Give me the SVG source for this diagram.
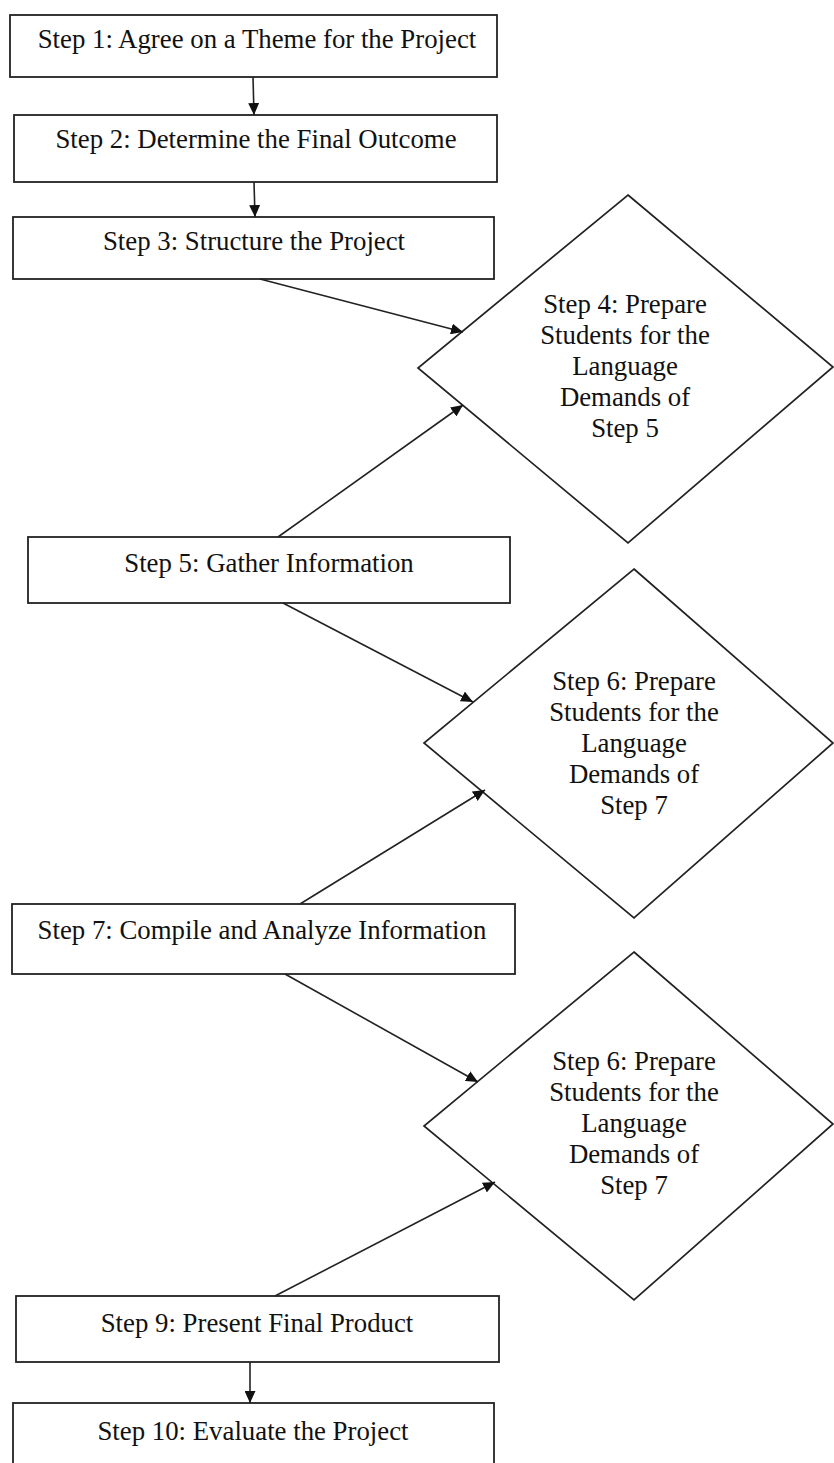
<svg xmlns="http://www.w3.org/2000/svg" width="834" height="1463" viewBox="0 0 834 1463">
<style>
.box{fill:#fff;stroke:#222;stroke-width:1.8}
.dia{fill:#fff;stroke:#222;stroke-width:1.7}
.lbl{font-family:"Liberation Serif","Times New Roman",serif;font-size:26.8px;fill:#111;text-anchor:middle}
.con{stroke:#222;stroke-width:1.6;fill:none;marker-end:url(#ah)}
</style>
<defs>
<marker id="ah" markerUnits="userSpaceOnUse" markerWidth="13" markerHeight="11" refX="12" refY="5.5" orient="auto">
<path d="M0,0 L12,5.5 L0,11 Z" fill="#111"/>
</marker>
</defs>
<rect width="834" height="1463" fill="#fff"/>
<g id="step1"><rect class="box" x="10" y="15" width="487" height="62"/><text class="lbl" x="257" y="48">Step 1: Agree on a Theme for the Project</text></g>
<g id="step2"><rect class="box" x="14" y="115" width="483" height="67"/><text class="lbl" x="256" y="148">Step 2: Determine the Final Outcome</text></g>
<g id="step3"><rect class="box" x="13" y="217" width="481" height="62"/><text class="lbl" x="254" y="250">Step 3: Structure the Project</text></g>
<g id="step4"><polygon class="dia" points="628,195 833,367 628,543 418,368"/>
<text class="lbl"><tspan x="625" y="313">Step 4: Prepare</tspan><tspan x="625" y="344">Students for the</tspan><tspan x="625" y="375">Language</tspan><tspan x="625" y="406">Demands of</tspan><tspan x="625" y="437">Step 5</tspan></text></g>
<g id="step5"><rect class="box" x="28" y="537" width="482" height="66"/><text class="lbl" x="269" y="572">Step 5: Gather Information</text></g>
<g id="step6a"><polygon class="dia" points="634,569 833,743 634,918 424,743"/>
<text class="lbl"><tspan x="634" y="690">Step 6: Prepare</tspan><tspan x="634" y="721">Students for the</tspan><tspan x="634" y="752">Language</tspan><tspan x="634" y="783">Demands of</tspan><tspan x="634" y="814">Step 7</tspan></text></g>
<g id="step7"><rect class="box" x="12" y="904" width="503" height="70"/><text class="lbl" x="262" y="939">Step 7: Compile and Analyze Information</text></g>
<g id="step6b"><polygon class="dia" points="634,952 833,1124 634,1300 424,1126"/>
<text class="lbl"><tspan x="634" y="1070">Step 6: Prepare</tspan><tspan x="634" y="1101">Students for the</tspan><tspan x="634" y="1132">Language</tspan><tspan x="634" y="1163">Demands of</tspan><tspan x="634" y="1194">Step 7</tspan></text></g>
<g id="step9"><rect class="box" x="16" y="1296" width="483" height="66"/><text class="lbl" x="257" y="1332">Step 9: Present Final Product</text></g>
<g id="step10"><rect class="box" x="13" y="1403" width="481" height="70"/><text class="lbl" x="253" y="1440">Step 10: Evaluate the Project</text></g>
<g id="connectors">
<line class="con" x1="253" y1="77" x2="254" y2="115"/>
<line class="con" x1="254" y1="182" x2="255" y2="217"/>
<line class="con" x1="260" y1="279" x2="463" y2="332"/>
<line class="con" x1="278" y1="537" x2="463" y2="405"/>
<line class="con" x1="283" y1="603" x2="473" y2="702"/>
<line class="con" x1="300" y1="904" x2="485" y2="790"/>
<line class="con" x1="285" y1="974" x2="478" y2="1082"/>
<line class="con" x1="275" y1="1296" x2="495" y2="1182"/>
<line class="con" x1="250" y1="1362" x2="250" y2="1403"/>
</g>
</svg>
